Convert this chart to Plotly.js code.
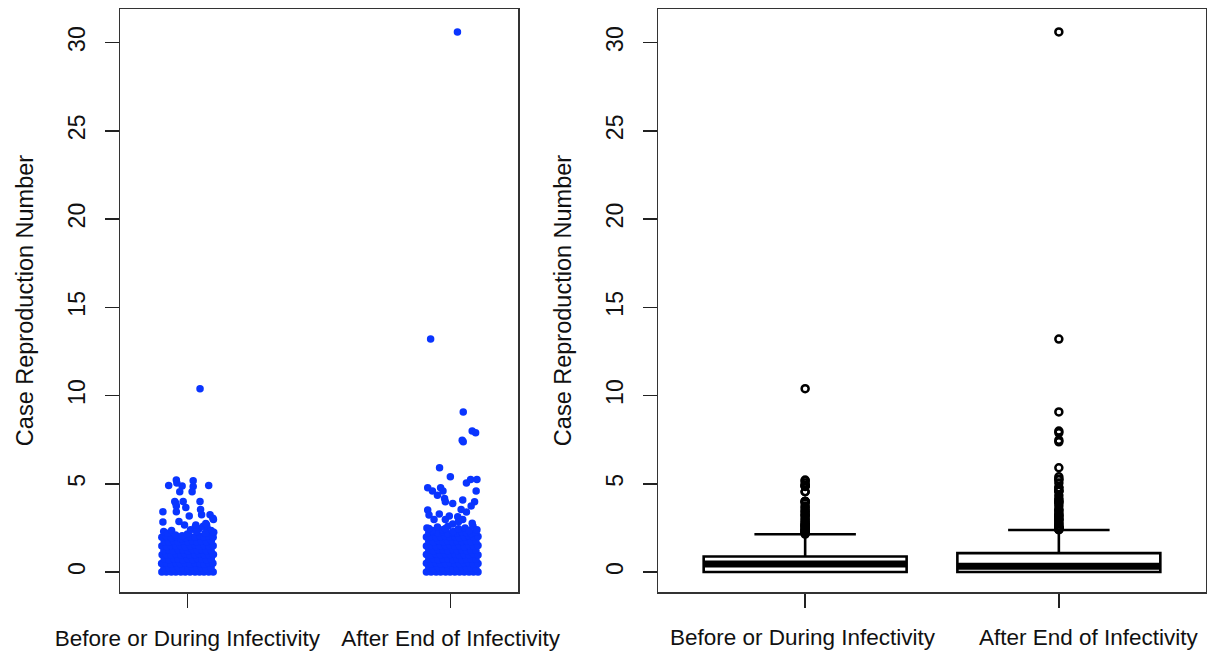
<!DOCTYPE html>
<html>
<head>
<meta charset="utf-8">
<script src="https://cdn.plot.ly/plotly-3.0.1.min.js"></script>
<style>html,body{margin:0;padding:0;background:#fff;}#chart{width:1207px;height:656px;}</style>
</head>
<body>
<div id="chart"></div>
<script>
// ---------- data ----------
const categories = ["Before or During Infectivity", "After End of Infectivity"];
const yTickValues = [0, 5, 10, 15, 20, 25, 30];
const yTitle = "Case Reproduction Number";

// Group 1: Before or During Infectivity (case reproduction numbers, jitter offsets)
const beforeValues = [
  0,0,0,0,0,0,0,0,0,0,0,0,
  0.21,0.25,0.19,0.26,0.23,0.2,0.27,0.22,0.24,0.18,0.25,
  0.48,0.5,0.45,0.52,0.47,0.5,0.44,0.51,0.49,0.46,0.53,0.5,
  0.73,0.7,0.76,0.72,0.69,0.75,0.71,0.77,0.73,0.7,0.74,
  0.98,1.0,0.95,1.02,0.97,1.01,0.96,1.0,1.03,0.97,0.99,1.0,
  1.22,1.26,1.2,1.25,1.23,1.19,1.27,1.22,1.25,1.21,1.24,
  1.48,1.45,1.51,1.47,1.5,1.44,1.49,1.52,1.46,1.5,1.47,1.49,
  1.73,1.7,1.76,1.72,1.78,1.71,1.74,1.69,1.75,1.72,1.77,
  1.97,2.0,1.95,2.02,1.9,1.96,2.01,1.98,2.04,1.99,2.03,1.97,
  2.3,2.2,2.35,2.1,2.05,2.15,2.4,2.55,2.45,2.6,2.5,2.35,2.25,2.3,2.2,
  10.39,5.21,5.17,4.91,4.87,4.85,4.91,4.55,4.55,4.0,4.0,4.0,3.74,3.66,
  3.42,3.42,3.25,3.17,3.25,2.98,2.83,2.87,2.66,2.66,2.66,5.05,3.55,3.9,2.75,3.05
];
const beforeJitter = [
  -0.097,-0.080,-0.061,-0.044,-0.025,-0.008,0.010,0.029,0.046,0.063,0.081,0.098,
  -0.089,-0.071,-0.053,-0.034,-0.017,0.002,0.019,0.038,0.054,0.072,0.090,
  -0.098,-0.079,-0.062,-0.043,-0.026,-0.007,0.011,0.028,0.047,0.064,0.082,0.097,
  -0.088,-0.070,-0.052,-0.035,-0.016,0.001,0.020,0.037,0.055,0.073,0.091,
  -0.096,-0.080,-0.061,-0.044,-0.025,-0.008,0.010,0.028,0.046,0.065,0.081,0.099,
  -0.089,-0.071,-0.054,-0.034,-0.017,0.003,0.019,0.037,0.056,0.072,0.090,
  -0.097,-0.079,-0.062,-0.043,-0.026,-0.007,0.011,0.029,0.045,0.064,0.082,0.098,
  -0.088,-0.071,-0.053,-0.035,-0.016,0.002,0.020,0.038,0.054,0.073,0.091,
  -0.097,-0.080,-0.061,-0.044,-0.025,-0.008,0.010,0.028,0.047,0.064,0.081,0.098,
  -0.090,-0.075,-0.060,-0.045,-0.020,0.000,0.012,0.030,0.045,0.060,0.075,0.090,0.100,0.035,0.068,
  0.048,-0.042,0.022,-0.071,-0.020,0.022,0.081,-0.029,0.018,-0.048,-0.016,0.048,-0.042,-0.006,
  -0.093,-0.042,0.054,0.007,0.086,0.099,-0.093,-0.032,-0.011,0.032,0.073,-0.040,0.050,-0.044,0.070,0.097
];

// Group 2: After End of Infectivity
const afterValues = [
  0,0,0,0,0,0,0,0,0,0,0,0,
  0.24,0.2,0.26,0.22,0.25,0.19,0.23,0.27,0.21,0.24,0.2,
  0.5,0.47,0.52,0.45,0.49,0.53,0.48,0.46,0.51,0.5,0.44,0.49,
  0.72,0.76,0.7,0.74,0.77,0.71,0.75,0.69,0.73,0.76,0.72,
  1.0,0.97,1.02,0.96,1.01,0.99,1.03,0.95,1.0,0.98,1.02,0.97,
  1.25,1.21,1.27,1.23,1.2,1.26,1.22,1.24,1.19,1.25,1.23,
  1.47,1.51,1.45,1.5,1.48,1.52,1.46,1.49,1.44,1.51,1.47,1.5,
  1.74,1.71,1.77,1.72,1.75,1.7,1.76,1.73,1.78,1.71,1.74,
  1.99,2.02,1.96,2.0,2.03,1.97,2.01,1.95,2.0,2.04,1.98,2.01,
  2.22,2.26,2.2,2.25,2.18,2.24,2.21,2.27,2.23,2.19,2.25,
  2.5,2.35,2.55,2.4,2.6,2.3,2.45,2.5,2.35,2.6,2.4,
  30.6,13.2,9.07,7.99,7.89,7.38,7.47,5.91,5.4,5.25,5.25,4.78,4.59,4.78,4.59,4.59,
  4.17,3.98,3.89,4.08,3.98,3.74,3.51,3.23,3.29,3.17,3.55,3.13,2.98,2.98,2.72,2.98,
  2.76,2.47,2.47,4.35,3.4,2.85,5.05
];
const afterJitter = [
  -0.092,-0.074,-0.055,-0.038,-0.019,-0.002,0.016,0.034,0.052,0.070,0.087,0.104,
  -0.083,-0.065,-0.047,-0.028,-0.011,0.008,0.025,0.043,0.061,0.078,0.096,
  -0.092,-0.074,-0.055,-0.038,-0.019,-0.002,0.016,0.034,0.052,0.070,0.087,0.104,
  -0.083,-0.065,-0.047,-0.028,-0.011,0.008,0.025,0.043,0.061,0.078,0.096,
  -0.092,-0.074,-0.055,-0.038,-0.019,-0.002,0.016,0.034,0.052,0.070,0.087,0.104,
  -0.083,-0.065,-0.047,-0.028,-0.011,0.008,0.025,0.043,0.061,0.078,0.096,
  -0.092,-0.074,-0.055,-0.038,-0.019,-0.002,0.016,0.034,0.052,0.070,0.087,0.104,
  -0.083,-0.065,-0.047,-0.028,-0.011,0.008,0.025,0.043,0.061,0.078,0.096,
  -0.092,-0.074,-0.055,-0.038,-0.019,-0.002,0.016,0.034,0.052,0.070,0.087,0.104,
  -0.083,-0.065,-0.047,-0.028,-0.011,0.008,0.025,0.043,0.061,0.078,0.096,
  -0.090,-0.070,-0.050,-0.030,-0.010,0.010,0.030,0.055,0.070,0.085,0.100,
  0.026,-0.076,0.048,0.082,0.095,0.048,0.044,-0.042,-0.001,0.076,0.100,-0.087,-0.069,-0.038,-0.029,0.097,
  -0.023,-0.020,0.008,0.046,0.091,0.078,-0.087,-0.082,-0.043,-0.005,0.040,0.027,-0.063,-0.020,0.008,0.046,
  0.082,-0.082,-0.020,-0.050,0.060,0.030,0.060
];

// Box-plot summary statistics
const boxQ1 = [0, 0];
const boxMedian = [0.46, 0.33];
const boxQ3 = [0.88, 1.07];
const boxLowerFence = [0, 0];
const boxUpperFence = [2.14, 2.38];

// ---------- traces ----------
const positions = [1, 2];
const groups = [
  {values: beforeValues, jitter: beforeJitter},
  {values: afterValues, jitter: afterJitter}
];
const blue = "#0a35ff";
const font = "Liberation Sans, Arial, sans-serif";
const textColor = "#111";

const traces = [];
groups.forEach((g, gi) => {
  traces.push({
    type: "scatter", mode: "markers", xaxis: "x", yaxis: "y",
    x: g.values.map((v, i) => positions[gi] + g.jitter[i]),
    y: g.values,
    marker: {color: blue, size: 7.5, line: {width: 0}},
    hoverinfo: "skip"
  });
});

const boxWidth = 0.8;
traces.push({
  type: "box", xaxis: "x2", yaxis: "y2",
  x: positions, q1: boxQ1, median: boxMedian, q3: boxQ3,
  lowerfence: boxLowerFence, upperfence: boxUpperFence,
  width: boxWidth, whiskerwidth: 0.5, boxpoints: false,
  fillcolor: "#ffffff", line: {color: "#000", width: 2.6},
  hoverinfo: "skip"
});

// thick median bars (R style)
const medX = [], medY = [];
positions.forEach((p, i) => {
  medX.push(p - boxWidth / 2, p + boxWidth / 2, null);
  medY.push(boxMedian[i], boxMedian[i], null);
});
traces.push({
  type: "scatter", mode: "lines", xaxis: "x2", yaxis: "y2",
  x: medX, y: medY, line: {color: "#000", width: 7}, hoverinfo: "skip"
});

// outliers
const outX = [], outY = [];
groups.forEach((g, gi) => {
  g.values.forEach(v => {
    if (v > boxUpperFence[gi] || v < boxLowerFence[gi]) { outX.push(positions[gi]); outY.push(v); }
  });
});
traces.push({
  type: "scatter", mode: "markers", xaxis: "x2", yaxis: "y2",
  x: outX, y: outY,
  marker: {symbol: "circle-open", size: 7, color: "#000", line: {width: 2.5, color: "#000"}},
  hoverinfo: "skip"
});

// ---------- layout ----------
const W = 1207, H = 656;
const yDomain = [(H - 592) / H, (H - 9) / H];
function xAxis(domain, range, anchor, showLabels) {
  return {
    domain: domain, range: range, anchor: anchor,
    tickmode: "array", tickvals: positions, ticktext: categories,
    showticklabels: showLabels,
    ticks: "outside", ticklen: 14, tickwidth: 1.5, tickcolor: "#222",
    showline: true, mirror: true, linecolor: "#333", linewidth: 1.5,
    showgrid: false, zeroline: false,
    tickfont: {family: font, size: 22.5, color: textColor},
    ticklabelstandoff: 11, fixedrange: true
  };
}
function yAxis(anchor) {
  return {
    domain: yDomain, range: [-1.13, 31.9], anchor: anchor,
    tickmode: "array", tickvals: yTickValues, ticktext: yTickValues.map(String),
    tickangle: -90,
    ticks: "outside", ticklen: 14, tickwidth: 1.5, tickcolor: "#222",
    showline: true, mirror: true, linecolor: "#333", linewidth: 1.5,
    showgrid: false, zeroline: false,
    tickfont: {family: font, size: 23, color: textColor},
    ticklabelstandoff: 10,
    title: {text: yTitle, font: {family: font, size: 23.5, color: textColor}, standoff: 24},
    fixedrange: true
  };
}

// right-panel category labels (the second one sits a little right of its tick in the original)
const labelShift = [-2, 30];
const annotations = positions.map((p, i) => ({
  xref: "x2", yref: "paper", x: p, y: yDomain[0],
  yanchor: "middle", yshift: -45.5, xshift: labelShift[i],
  text: categories[i], showarrow: false,
  font: {family: font, size: 22.5, color: textColor}
}));

const layout = {
  width: W, height: H,
  margin: {l: 0, r: 0, t: 0, b: 0},
  paper_bgcolor: "#fff", plot_bgcolor: "#fff",
  showlegend: false, hovermode: false,
  font: {family: font, size: 22, color: textColor},
  xaxis: xAxis([120 / W, 518 / W], [0.744, 2.256], "y", true),
  yaxis: yAxis("x"),
  xaxis2: xAxis([658 / W, 1206 / W], [0.42, 2.58], "y2", false),
  yaxis2: yAxis("x2"),
  annotations: annotations
};

Plotly.newPlot("chart", traces, layout, {displayModeBar: false, staticPlot: true});
</script>
</body>
</html>
